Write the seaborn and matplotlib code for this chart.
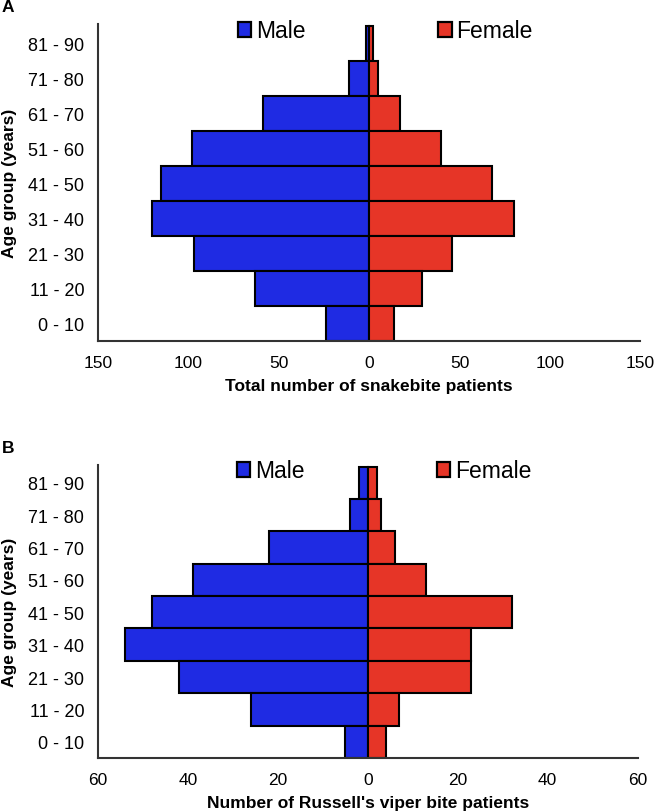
import numpy as np
import pandas as pd
import seaborn as sns
import matplotlib.pyplot as plt
from matplotlib.patches import Patch

# age groups, top to bottom as drawn
age_groups = ['81 - 90', '71 - 80', '61 - 70', '51 - 60', '41 - 50',
              '31 - 40', '21 - 30', '11 - 20', '0 - 10']

# panel A - all snakebite patients
male_all = [2, 11, 59, 98, 115, 120, 97, 63, 24]
female_all = [2, 5, 17, 40, 68, 80, 46, 29, 14]

# panel B - Russell's viper bites
male_rv = [2, 4, 22, 39, 48, 54, 42, 26, 5]
female_rv = [2, 3, 6, 13, 32, 23, 23, 7, 4]

ticks_a = [150, 100, 50, 0, 50, 100, 150]
ticks_b = [60, 40, 20, 0, 20, 40, 60]

blue = '#1f2be3'
red = '#e63527'

sns.set_theme(style='white')
plt.rcParams['font.family'] = ['Liberation Sans', 'DejaVu Sans']
plt.rcParams['text.color'] = 'black'
plt.rcParams['axes.labelcolor'] = 'black'
plt.rcParams['xtick.color'] = 'black'
plt.rcParams['ytick.color'] = 'black'


def pyramid(ax, male, female, ticks, xlabel, letter, leg_y):
    df = pd.DataFrame({
        'age': age_groups * 2,
        'count': [-v for v in male] + list(female),
        'sex': ['Male'] * len(male) + ['Female'] * len(female),
    })
    sns.barplot(data=df, x='count', y='age', hue='sex', order=age_groups,
                palette={'Male': blue, 'Female': red}, dodge=False,
                width=1.0, saturation=1, edgecolor='black', linewidth=1.5,
                orient='h', legend=False, ax=ax)
    lim = ticks[-1]
    ax.set_xlim(-lim, lim)
    ax.set_ylim(len(age_groups) - 0.5, -0.55)
    xt = np.array([-t for t in ticks[:3]] + ticks[3:])
    ax.set_xticks(xt)
    ax.set_xticklabels([str(t) for t in ticks], fontsize=12.5)
    ax.tick_params(axis='y', labelsize=13, length=0, pad=10)
    ax.tick_params(axis='x', length=0, pad=10)
    ax.set_xlabel(xlabel, fontsize=12.5, fontweight='bold', labelpad=6)
    ax.set_ylabel('Age group (years)', fontsize=12.5, fontweight='bold',
                  labelpad=8)
    sns.despine(ax=ax)
    for s in ['left', 'bottom']:
        ax.spines[s].set_color('#333333')
        ax.spines[s].set_linewidth(1.5)
    handles = [Patch(facecolor=blue, edgecolor='black', linewidth=1.6, label='Male'),
               Patch(facecolor=red, edgecolor='black', linewidth=1.6, label='Female')]
    ax.legend(handles=handles, loc='center', bbox_to_anchor=(0.53, leg_y),
              ncol=2, frameon=False, fontsize=16.5, handlelength=0.57,
              handleheight=0.6, handletextpad=0.22, columnspacing=5.8,
              borderaxespad=0, borderpad=0)
    ax.figure.text(0.003, ax.get_position().y1 + 0.012, letter,
                   fontsize=12.5, fontweight='bold', va='bottom')


fig = plt.figure(figsize=(6.54, 8.12), dpi=100)
ax_a = fig.add_axes([0.150, 0.5788, 0.829, 0.3904])
ax_b = fig.add_axes([0.150, 0.0653, 0.825, 0.3608])

pyramid(ax_a, male_all, female_all, ticks_a,
        'Total number of snakebite patients', 'A', 0.978)
pyramid(ax_b, male_rv, female_rv, ticks_b,
        "Number of Russell's viper bite patients", 'B', 0.980)

fig.savefig('out.png', dpi=100)
